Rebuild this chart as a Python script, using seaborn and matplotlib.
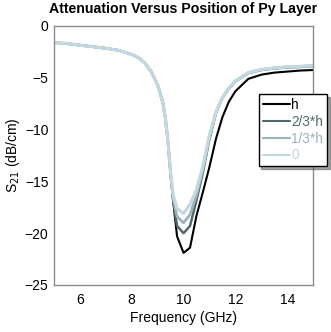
import matplotlib
matplotlib.use("Agg")
import matplotlib.pyplot as plt
import pandas as pd
import seaborn as sns

# frequency samples (GHz)
freq = [5, 5.5, 6, 6.5, 7, 7.5, 8, 8.25, 8.5, 8.75, 9, 9.1, 9.2, 9.3, 9.4,
        9.5, 9.6, 9.75, 10, 10.25, 10.5, 10.75, 11, 11.25, 11.5, 11.75, 12,
        12.5, 13, 13.5, 14, 14.5, 15]

# S21 (dB/cm) for each Py layer position
s21_h = [-1.6, -1.7, -1.85, -2.0, -2.15, -2.35, -2.75, -3.05, -3.55, -4.4,
         -5.7, -6.5, -7.4, -8.9, -11.2, -14.3, -16.9, -20.3, -21.9, -21.4,
         -18.3, -16.0, -13.6, -10.9, -8.8, -7.3, -6.3, -5.1, -4.7, -4.5,
         -4.4, -4.3, -4.25]
s21_23h = [-1.6, -1.7, -1.85, -2.0, -2.15, -2.35, -2.75, -3.05, -3.55, -4.4,
           -5.7, -6.5, -7.4, -8.9, -11.2, -14.3, -16.8, -19.3, -20.0, -19.3,
           -16.8, -14.1, -10.9, -8.4, -6.95, -6.05, -5.35, -4.55, -4.25,
           -4.1, -4.0, -3.95, -3.88]
s21_13h = [-1.6, -1.7, -1.85, -2.0, -2.15, -2.35, -2.75, -3.05, -3.55, -4.4,
           -5.7, -6.5, -7.4, -8.9, -11.2, -14.2, -16.6, -18.4, -19.0, -18.2,
           -16.3, -13.8, -10.7, -8.35, -6.9, -6.0, -5.3, -4.5, -4.2, -4.05,
           -3.95, -3.9, -3.83]
s21_0 = [-1.6, -1.7, -1.85, -2.0, -2.15, -2.35, -2.75, -3.05, -3.55, -4.4,
         -5.7, -6.5, -7.4, -8.9, -11.2, -14.1, -16.3, -17.6, -18.1, -17.2,
         -15.8, -13.5, -10.5, -8.3, -6.9, -6.0, -5.3, -4.5, -4.2, -4.05,
         -3.95, -3.9, -3.83]

labels = ["h", "2/3*h", "1/3*h", "0"]
colors = ["#000000", "#4f6a6c", "#9cb3ba", "#c4d8df"]
widths = [1.5, 1.8, 2.0, 2.3]

sns.set_style("white")
plt.rcParams["font.family"] = ["Liberation Sans", "DejaVu Sans"]
plt.rcParams["text.color"] = "black"
plt.rcParams["axes.labelcolor"] = "black"
plt.rcParams["xtick.color"] = "black"
plt.rcParams["ytick.color"] = "black"

fig = plt.figure(figsize=(3.31, 3.32), dpi=100)
ax = fig.add_axes([0.163, 0.1416, 0.783, 0.7801])

for lab, vals, col, lw in zip(labels, [s21_h, s21_23h, s21_13h, s21_0], colors, widths):
    df = pd.DataFrame({"freq": freq, "s21": vals})
    sns.lineplot(data=df, x="freq", y="s21", ax=ax, color=col, linewidth=lw, label=lab)

ax.set_xlim(5, 15)
ax.set_ylim(-25, 0)
ax.set_xticks([6, 8, 10, 12, 14])
ax.set_yticks([0, -5, -10, -15, -20, -25])
ax.tick_params(length=0, labelsize=10)
ax.tick_params(axis="y", pad=4)
ax.tick_params(axis="x", pad=6)
for s in ax.spines.values():
    s.set_color("#8c8c8c")
    s.set_linewidth(1.0)

ax.set_xlabel("Frequency (GHz)", fontsize=10, labelpad=3)
ax.set_ylabel("S$_{21}$ (dB/cm)", fontsize=10, labelpad=2)
ax.set_title("Attenuation Versus Position of Py Layer", fontsize=10.2,
             fontweight="bold", pad=9)

leg = ax.legend(loc="upper left", bbox_to_anchor=(0.79, 0.737), borderaxespad=0,
                fancybox=False, shadow=True, frameon=True, fontsize=9.8,
                handlelength=2.0, handletextpad=0.1, labelspacing=0.2,
                borderpad=0.3, labelcolor="linecolor")
leg.get_frame().set_edgecolor("black")
leg.get_frame().set_linewidth(1.0)
for line in leg.get_lines():
    line.set_linewidth(1.5)

fig.savefig("out.png", dpi=100)
